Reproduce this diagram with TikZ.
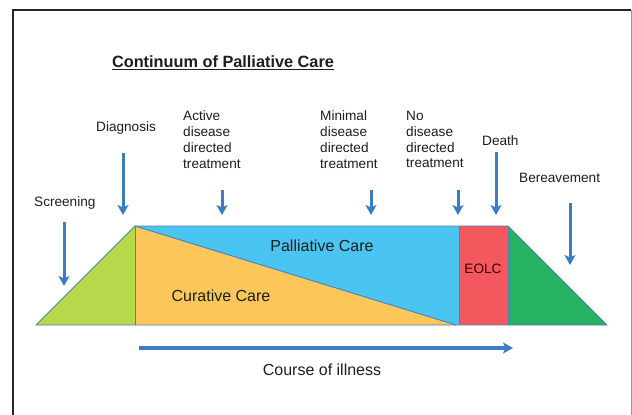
\documentclass[tikz,border=0pt]{standalone}
\usepackage{fontspec}
\setmainfont{Liberation Sans}
\usetikzlibrary{arrows.meta}
\definecolor{arrowblue}{RGB}{59,125,197}
\definecolor{edgeblue}{RGB}{78,128,180}
\definecolor{screengreen}{RGB}{182,216,74}
\definecolor{curyellow}{RGB}{253,198,90}
\definecolor{palblue}{RGB}{74,196,240}
\definecolor{eolcred}{RGB}{243,88,95}
\definecolor{grievegreen}{RGB}{38,178,96}
\definecolor{textgrey}{RGB}{30,30,30}
\begin{document}
\begin{tikzpicture}[x=1pt, y=-1pt,
    label/.style ={anchor=west, inner sep=0pt, align=left, text=textgrey,
       font=\fontsize{13.6}{15.8}\selectfont},
    big/.style ={inner sep=0pt, text=textgrey, font=\fontsize{16}{19}\selectfont},
    pointer/.style ={arrowblue, line width=3pt, -{Stealth[length=10pt,width=11pt,inset=2.5pt]}},
    region/.style ={draw=edgeblue, line width=0.9pt, line join=round}]
   \useasboundingbox (0,0) rectangle (632,415);
   \fill[white] (0,0) rectangle (632,415);
   \draw[line width=2.5pt, black!85] (13,420) -- (13,10) -- (631,10);
   \draw[line width=0.8pt, black!40] (631,10) -- (631,420);

   % corners of the band
   \coordinate (L)  at (36,325);
   \coordinate (A)  at (135,226);
   \coordinate (A0) at (135,325);
   \coordinate (D)  at (456,325);
   \coordinate (R1) at (459,226);
   \coordinate (R0) at (459,325);
   \coordinate (E1) at (508,226);
   \coordinate (E0) at (508,325);
   \coordinate (Q)  at (607,325);

   \fill[screengreen] (L) -- (A) -- (A0) -- cycle;
   \fill[curyellow] (A) -- (D) -- (A0) -- cycle;
   \fill[palblue] (A) -- (R1) -- (R0) -- (D) -- cycle;
   \fill[eolcred] (R1) rectangle (E0);
   \fill[grievegreen] (E1) -- (Q) -- (E0) -- cycle;
   \draw[region] (L) -- (A) -- (E1) -- (Q) -- cycle;
   \draw[region] (A) -- (A0);
   \draw[region] (A) -- (D);
   \draw[region] (R1) -- (R0);
   \draw[region] (E1) -- (E0);

   \node[big] (pal) at (322,246) {Palliative Care};
   \node[big] (cur) at (221,296) {Curative Care};
   \node[label, anchor=center, text=black!75!red] (eolc) at (483,269) {EOLC};

   \node[inner sep=0pt, text=textgrey, font=\bfseries\fontsize{16.3}{19}\selectfont]
      (title) at (223,63) {\underline{Continuum of Palliative Care}};

   \node[label] (screen) at (34,203) {Screening};
   \node[label] (diag)   at (96,128) {Diagnosis};
   \node[label] (active) at (183,139.5) {Active\\disease\\directed\\treatment};
   \node[label] (minim)  at (320,139.5) {Minimal\\disease\\directed\\treatment};
   \node[label] (nodis)  at (406,139.5) {No\\disease\\directed\\treatment};
   \node[label] (death)  at (482,141) {Death};
   \node[label] (grief)  at (519,178) {Bereavement};

   \coordinate (s1) at (64,222);  \coordinate (s2) at (64,286);
   \coordinate (g1) at (123,153); \coordinate (g2) at (123,215);
   \coordinate (a1) at (222,190); \coordinate (a2) at (222,215);
   \coordinate (m1) at (371,190); \coordinate (m2) at (371,215);
   \coordinate (n1) at (458,190); \coordinate (n2) at (458,215);
   \coordinate (d1) at (496,152); \coordinate (d2) at (496,215);
   \coordinate (b1) at (570,203); \coordinate (b2) at (570,265);

   \draw[pointer] (s1) to (s2);
   \draw[pointer] (g1) to (g2);
   \draw[pointer] (a1) to (a2);
   \draw[pointer] (m1) to (m2);
   \draw[pointer] (n1) to (n2);
   \draw[pointer] (d1) to (d2);
   \draw[pointer] (b1) to (b2);

   \coordinate (c1) at (139,348);
   \coordinate (c2) at (513,348);
   \draw[pointer, line width=3.2pt] (c1) to (c2);
   \node[big] (course) at (322,370) {Course of illness};

 \end{tikzpicture}
\end{document}
